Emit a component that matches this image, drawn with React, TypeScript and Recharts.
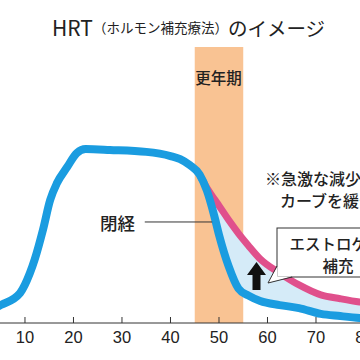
import { ComposedChart, Line, Area, XAxis, YAxis, ReferenceArea, ReferenceLine } from "recharts";

// age on the x axis (chart is cropped on both sides, like the original figure)
const ages = [0, 5, 9, 11, 12, 13.7, 15.2, 16.6, 18.7, 20.7, 22.5, 27.5, 35, 40, 42, 44, 46, 47.5, 49, 50, 52, 54, 56, 58.5, 62.5, 66.5, 71, 75, 79, 87];
// natural estrogen level (blue)
const natural = [3, 6.5, 10.9, 18, 23, 33.7, 44.6, 50.7, 56.5, 61.6, 63, 62.7, 62, 60.5, 59.4, 57.2, 53.8, 48, 39, 32, 20.5, 12.5, 10, 8, 6.5, 5.4, 3.3, 2.5, 1.8, 1.2];
// with HRT (pink), only after the split
const withHrt: (number | null)[] = [
  null, null, null, null, null, null, null, null, null, null, null, null, null, null, null, null,
  53.8, 49, 45, 42.5, 37.3, 32.5, 28.2, 23.2, 18.1, 13.8, 10.2, 8.8, 7.6, 6.5,
];
const ticks = [10, 20, 30, 40, 50, 60, 70, 80];
const menopause = [45, 55];

const BLUE = "#1a9ce0";
const PINK = "#e0508c";
const FILL = "#d5ebf8";
const BAND = "#f9c393";
const JP = "'Noto Sans CJK JP', 'Noto Sans', sans-serif";

const rows = ages.map((age, i) => ({
  age,
  natural: natural[i],
  hrt: withHrt[i],
  gap: withHrt[i] == null ? null : [natural[i], withHrt[i] as number],
}));

export default function App() {
  return (
    <div style={{ position: "absolute", left: 0, top: 0, width: 360, height: 360, overflow: "hidden", background: "#fff" }}>
      <ComposedChart width={400} height={360} data={rows} margin={{ top: 47, right: 0, left: 0, bottom: 0 }}>
        <XAxis
          dataKey="age"
          type="number"
          domain={[4.85, 87.32]}
          allowDataOverflow
          ticks={ticks}
          height={37}
          tickSize={-6}
          tickMargin={14}
          axisLine={{ stroke: "#333" }}
          tickLine={{ stroke: "#333" }}
          tick={{ fontSize: 16.5, fill: "#222", fontFamily: "'Liberation Sans Narrow', 'Liberation Sans', sans-serif" }}
        />
        <YAxis hide domain={[0, 100]} allowDataOverflow />
        <ReferenceArea x1={menopause[0]} x2={menopause[1]} y1={0} y2={100} fill={BAND} fillOpacity={1} stroke="none" />
        <Area dataKey="gap" type="monotone" stroke="none" fill={FILL} fillOpacity={1} isAnimationActive={false} />
        <Line dataKey="hrt" type="monotone" stroke={PINK} strokeWidth={7} dot={false} isAnimationActive={false} />
        <Line dataKey="natural" type="monotone" stroke={BLUE} strokeWidth={8} dot={false} strokeLinejoin="round" isAnimationActive={false} />
        <ReferenceLine segment={[{ x: 34.7, y: 36.6 }, { x: 48.6, y: 36.6 }]} stroke="#333" strokeWidth={1} />
      </ComposedChart>

      <svg width={360} height={360} style={{ position: "absolute", left: 0, top: 0, pointerEvents: "none" }}>
        <text y={27} dominantBaseline="central" fontFamily={JP} fill="#222">
          <tspan x={52} fontSize={21}>HRT</tspan>
          <tspan fontSize={13.5}>（ホルモン補充療法）</tspan>
          <tspan fontSize={19.5}>のイメージ</tspan>
        </text>
        <text x={218.5} y={77} textAnchor="middle" dominantBaseline="central" fontFamily={JP} fontSize={15.5} fontWeight={500} fill="#222">更年期</text>
        <text x={100} y={222} dominantBaseline="central" fontFamily={JP} fontSize={17.5} fontWeight={500} fill="#222">閉経</text>
        <text x={265} y={178} dominantBaseline="central" fontFamily={JP} fontSize={16} fontWeight={500} fill="#222">※急激な減少の</text>
        <text x={280} y={200} dominantBaseline="central" fontFamily={JP} fontSize={16} fontWeight={500} fill="#222">カーブを緩やかに</text>

        <rect x={277} y={228} width={120} height={49} fill="#fff" stroke="#333" strokeWidth={1} />
        <polygon points="277.5,266 268,283 292,276.5 277.5,276.5" fill="#fff" stroke="none" />
        <polyline points="277,266 268,283 292,277" fill="none" stroke="#333" strokeWidth={1} />
        <text x={336} y={243} textAnchor="middle" dominantBaseline="central" fontFamily={JP} fontSize={15.5} fontWeight={500} fill="#222">エストロゲン</text>
        <text x={338} y={265} textAnchor="middle" dominantBaseline="central" fontFamily={JP} fontSize={15.5} fontWeight={500} fill="#222">補充</text>

        <polygon points="256.5,262 266,275 260.5,275 260.5,290 252.5,290 252.5,275 247,275" fill="#111" />
      </svg>
    </div>
  );
}
